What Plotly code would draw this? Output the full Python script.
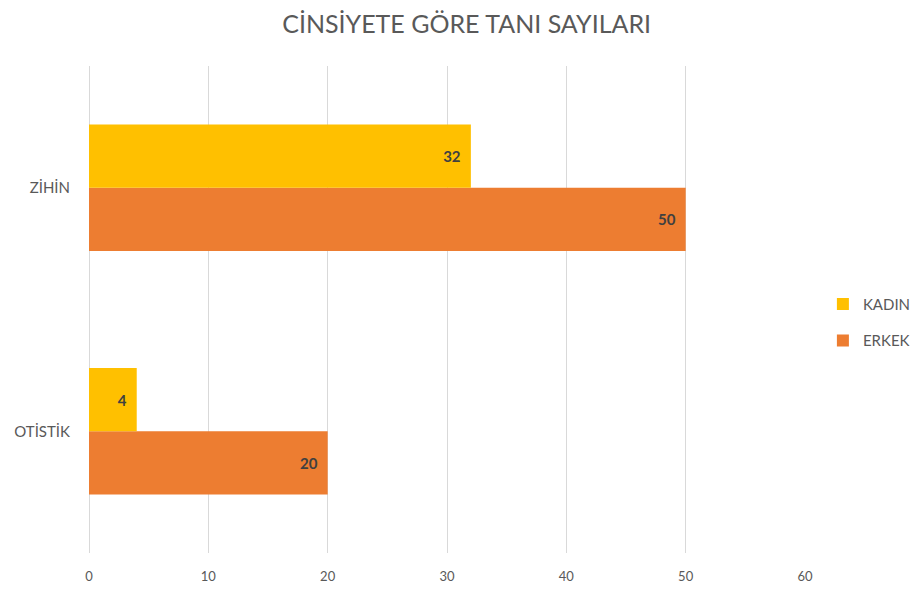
import plotly.graph_objects as go

categories = ["OTİSTİK", "ZİHİN"]
kadin = [4, 32]
erkek = [20, 50]
x_ticks = [0, 10, 20, 30, 40, 50, 60]

font_family = "Lato, 'Open Sans', sans-serif"
gray = "#595959"

fig = go.Figure()
fig.add_trace(go.Bar(
    y=categories, x=erkek, name="ERKEK", orientation="h",
    marker=dict(color="#ED7D31", line=dict(width=0)),
    texttemplate="%{x}  ", textposition="inside", insidetextanchor="end",
    textfont=dict(color="#404040", size=15, family=font_family, weight="bold"),
    legendrank=2, legendgroup="b",
))
fig.add_trace(go.Bar(
    y=categories, x=kadin, name="KADIN", orientation="h",
    marker=dict(color="#FFC000", line=dict(width=0)),
    texttemplate="%{x}  ", textposition="inside", insidetextanchor="end",
    textfont=dict(color="#404040", size=15, family=font_family, weight="bold"),
    legendrank=1, legendgroup="a",
))

# page body has an 8px margin, so the figure is sized/positioned to compensate
fig.update_layout(
    width=910, height=587,
    paper_bgcolor="white", plot_bgcolor="white",
    barmode="group", bargap=0.48, bargroupgap=0,
    margin=dict(l=81, r=113, t=58, b=42, autoexpand=False),
    font=dict(family=font_family, color=gray, size=14),
    title=dict(text="CİNSİYETE GÖRE TANI SAYILARI", x=0.504, xref="container",
               xanchor="center", y=0.9727, yanchor="middle",
               font=dict(size=25, color=gray, family=font_family)),
    legend=dict(x=1.025, xanchor="left", y=0.474, yanchor="middle",
                traceorder="grouped", tracegroupgap=14,
                font=dict(size=15, color=gray), itemwidth=30),
    uniformtext=dict(mode=False),
)
fig.update_xaxes(range=[0, 60], tickvals=x_ticks, showgrid=True, gridcolor="#D9D9D9",
                 gridwidth=1, zeroline=True, zerolinecolor="#D9D9D9", zerolinewidth=1,
                 showline=False, ticks="",
                 tickfont=dict(size=13, color=gray), ticklabelstandoff=14,
                 fixedrange=True, automargin=False)
fig.update_yaxes(showgrid=False, showline=False, ticks="", zeroline=False,
                 tickfont=dict(size=15, color=gray), ticklabelstandoff=18,
                 range=[-0.5, 1.5], fixedrange=True, automargin=False)

fig.write_html("out.html")
